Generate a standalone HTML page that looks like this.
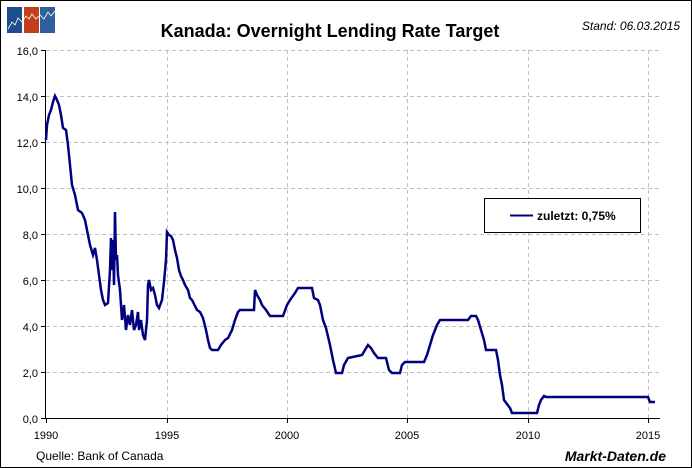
<!DOCTYPE html>
<html><head><style>
html,body{margin:0;padding:0;background:#fff}
svg{display:block}
text{font-family:"Liberation Sans",sans-serif}
</style></head><body>
<svg width="692" height="468" viewBox="0 0 692 468">
<rect x="0.5" y="0.5" width="691" height="467" fill="#fff" stroke="#000"/>
<rect x="7" y="7" width="15" height="26" fill="#1f4e8c"/>
<rect x="24" y="7" width="15" height="26" fill="#c0401e"/>
<rect x="40" y="7" width="15" height="26" fill="#2f5f9c"/>
<polyline points="8,29 12,22 15,25 18,18 22,22 26,16 29,19 32,14 36,19 40,15 44,19 48,12 51,16 55,11" fill="none" stroke="#fff" stroke-width="0.8"/>
<text x="330" y="37" text-anchor="middle" font-size="18" font-weight="bold">Kanada: Overnight Lending Rate Target</text>
<text x="680" y="30" text-anchor="end" font-size="12" font-style="italic">Stand: 06.03.2015</text>
<g stroke="#c0c0c0" stroke-dasharray="4,3" stroke-width="1">
<line x1="46" y1="50.5" x2="660" y2="50.5"/><line x1="46" y1="96.5" x2="660" y2="96.5"/>
<line x1="46" y1="142.5" x2="660" y2="142.5"/><line x1="46" y1="188.5" x2="660" y2="188.5"/>
<line x1="46" y1="234.5" x2="660" y2="234.5"/><line x1="46" y1="280.5" x2="660" y2="280.5"/>
<line x1="46" y1="326.5" x2="660" y2="326.5"/><line x1="46" y1="372.5" x2="660" y2="372.5"/>
<line x1="167.5" y1="50" x2="167.5" y2="418"/><line x1="287.5" y1="50" x2="287.5" y2="418"/>
<line x1="407.5" y1="50" x2="407.5" y2="418"/><line x1="528.5" y1="50" x2="528.5" y2="418"/>
<line x1="648.5" y1="50" x2="648.5" y2="418"/>
</g>
<line x1="45.5" y1="50" x2="45.5" y2="419" stroke="#000"/>
<line x1="45" y1="418.5" x2="660" y2="418.5" stroke="#000"/>
<g stroke="#000">
<line x1="41" y1="50.5" x2="45" y2="50.5"/><line x1="41" y1="96.5" x2="45" y2="96.5"/><line x1="41" y1="142.5" x2="45" y2="142.5"/><line x1="41" y1="188.5" x2="45" y2="188.5"/><line x1="41" y1="234.5" x2="45" y2="234.5"/><line x1="41" y1="280.5" x2="45" y2="280.5"/><line x1="41" y1="326.5" x2="45" y2="326.5"/><line x1="41" y1="372.5" x2="45" y2="372.5"/><line x1="41" y1="418.5" x2="45" y2="418.5"/>
<line x1="46.5" y1="418" x2="46.5" y2="423"/><line x1="167.5" y1="418" x2="167.5" y2="423"/><line x1="287.5" y1="418" x2="287.5" y2="423"/><line x1="407.5" y1="418" x2="407.5" y2="423"/><line x1="528.5" y1="418" x2="528.5" y2="423"/><line x1="648.5" y1="418" x2="648.5" y2="423"/>
</g>
<g font-size="11" text-anchor="end">
<text x="38" y="55">16,0</text><text x="38" y="101">14,0</text><text x="38" y="147">12,0</text><text x="38" y="193">10,0</text><text x="38" y="239">8,0</text><text x="38" y="285">6,0</text><text x="38" y="331">4,0</text><text x="38" y="377">2,0</text><text x="38" y="423">0,0</text>
</g>
<g font-size="11" text-anchor="middle">
<text x="46" y="439">1990</text><text x="167" y="439">1995</text><text x="287" y="439">2000</text><text x="407" y="439">2005</text><text x="528" y="439">2010</text><text x="648" y="439">2015</text>
</g>
<polyline fill="none" stroke="#000080" stroke-width="2.5" stroke-linejoin="miter" points="46,140 47,125 49,115 51,110 53,102 55,96 57,100 59,105 61,115 63,128 66,130 68,145 70,165 72,185 75,195 78,210 82,213 85,220 87,230 90,245 93,255 95,248 97,260 99,275 101,290 103,300 105,305 108,303 110,270 111,238 112,270 113,240 114,285 115,212 116,260 117,255 118,275 120,290 122,320 124,305 126,330 128,315 130,325 132,310 134,330 136,325 138,312 139,330 141,320 143,335 145,340 147,320 148,285 149,280 151,290 153,288 155,295 157,305 159,308 162,300 164,282 166,260 167,232 169,235 171,236 173,240 175,250 177,258 179,270 181,276 183,280 185,285 188,290 190,298 192,300 195,306 197,310 200,312 203,318 206,330 208,340 210,348 212,350 218,350 221,345 225,340 228,338 232,330 235,320 238,312 240,310 248,310 254,310 255,290 257,295 260,300 262,305 266,310 270,316 283,316 287,305 290,300 295,293 298,288 312,288 314,298 318,300 320,305 323,320 326,328 330,345 333,360 336,373 342,373 344,365 348,358 362,355 365,350 368,345 371,348 374,353 378,358 386,358 389,370 392,373 400,373 402,365 405,362 424,362 427,355 430,345 433,335 437,325 440,320 468,320 471,316 476,316 478,320 481,330 484,340 486,350 496,350 498,360 500,375 502,385 504,400 510,408 512,413 537,413 539,405 541,400 544,396 546,397 648,397 650,402 655,402"/>
<rect x="484.5" y="198.5" width="156" height="34" fill="#fff" stroke="#000"/>
<line x1="510" y1="215.5" x2="533" y2="215.5" stroke="#000080" stroke-width="2"/>
<text x="537" y="220" font-size="12" font-weight="bold">zuletzt: 0,75%</text>
<text x="36" y="460" font-size="12">Quelle: Bank of Canada</text>
<text x="666" y="461" text-anchor="end" font-size="14" font-weight="bold" font-style="italic">Markt-Daten.de</text>
</svg>
</body></html>
